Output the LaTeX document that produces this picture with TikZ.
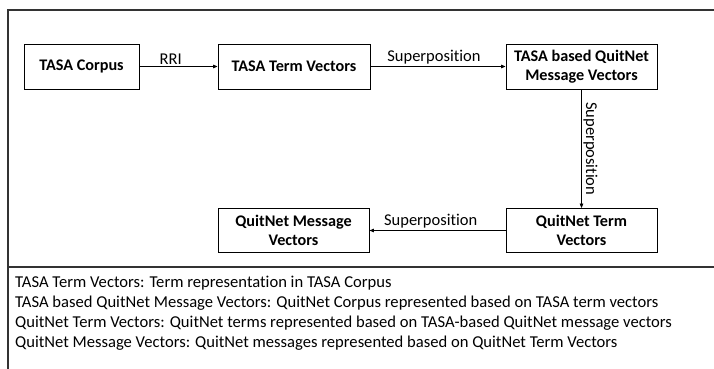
\documentclass[tikz,border=0pt]{standalone}
\usepackage{fontspec}
\setmainfont[Ligatures={NoCommon}]{Carlito}
\usetikzlibrary{arrows.meta,calc}
\definecolor{frame}{HTML}{333333}
\tikzset{
  box/.style={draw=black, line width=0.9pt, fill=white, align=center, font=\fontsize{16.2}{19}\selectfont\bfseries, inner sep=0pt},
  conn/.style={line width=0.8pt, -{Triangle[length=4.5pt,width=3.6pt]}},
  lbl/.style={font=\fontsize{16.5}{19}\selectfont, inner sep=1.5pt},
  framel/.style={draw=frame, line width=1.1pt}
}
\begin{document}
\begin{tikzpicture}[x=1pt,y=-1pt]
\useasboundingbox (0,0) rectangle (714,369);
% frame
\coordinate (fTL) at (8,10);
\coordinate (fTR) at (714,10);
\coordinate (fBL) at (8,369);
\coordinate (sL) at (8,267);
\coordinate (sR) at (714,267);
\draw[framel] (fTR) -- (fTL) -- (fBL);
\draw[framel] (sL) -- (sR);
% boxes
\node[box, minimum width=115, minimum height=45] (corpus) at (81.5,66.5) {TASA Corpus};
\node[box, minimum width=152, minimum height=45] (term) at (294,66.5) {TASA Term Vectors};
\node[box, minimum width=151, minimum height=45] (tqmsg) at (581.5,66.5) {TASA based QuitNet\\Message Vectors};
\node[box, minimum width=151, minimum height=44] (qterm) at (581.5,230.5) {QuitNet Term\\Vectors};
\node[box, minimum width=151, minimum height=44] (qmsg) at (293.5,230.5) {QuitNet Message\\Vectors};
% connectors
\draw[conn] (corpus) -- node[lbl, above, pos=0.4] (l1) {RRI} (term);
\draw[conn] (term) -- node[lbl, above, pos=0.47] (l2) {Superposition} (tqmsg);
\draw[conn] (tqmsg) -- node[lbl, sloped, above, midway] (l3) {Superposition} (qterm);
\draw[conn] (qterm) -- node[lbl, above, pos=0.55] (l4) {Superposition} (qmsg);
% legend
\node[anchor=north west, align=left, inner sep=0pt, font=\fontsize{16.6}{20}\selectfont] (legend) at (15,275.5) {TASA Term Vectors: Term representation in TASA Corpus\\
TASA based QuitNet Message Vectors: QuitNet Corpus represented based on TASA term vectors\\
QuitNet Term Vectors: QuitNet terms represented based on TASA-based QuitNet message vectors\\
QuitNet Message Vectors: QuitNet messages represented based on QuitNet Term Vectors};
\end{tikzpicture}
\end{document}
